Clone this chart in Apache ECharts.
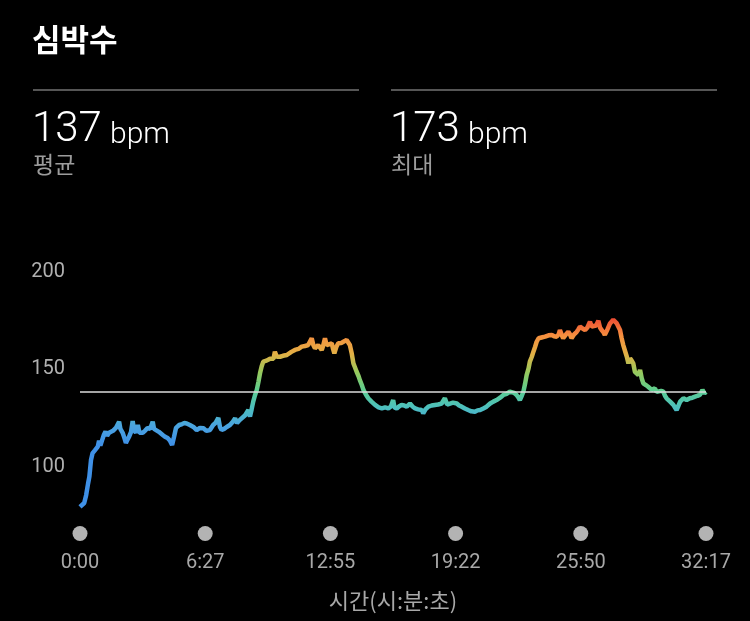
<!DOCTYPE html>
<html><head><meta charset="utf-8">
<script src="https://cdn.jsdelivr.net/npm/echarts@6/dist/echarts.min.js"></script>
<style>html,body{margin:0;padding:0;background:#000;}#c{width:750px;height:621px;}</style>
</head><body><div id="c"></div>
<script>
// elapsed time (seconds)
const timeSec = [0,6,13,19,25,29,34,39,46,55,59,63,68,74,79,84,90,96,102,111,121,125,132,138,142,147,152,158,163,167,173,179,184,194,201,209,217,225,229,235,244,256,263,271,278,285,291,297,307,316,323,330,340,351,361,371,382,391,402,412,419,428,433,438,446,454,464,473,480,486,494,500,511,521,526,531,536,541,547,552,557,562,567,572,577,583,588,593,599,603,609,619,628,640,645,654,665,676,686,696,706,712,717,722,727,737,743,748,753,758,763,768,779,783,787,793,799,808,815,825,831,835,841,846,851,856,862,866,872,877,885,892,902,913,924,934,944,954,962,969,973,980,987,995,1003,1011,1021,1029,1037,1046,1057,1062,1069,1078,1088,1098,1108,1119,1125,1129,1136,1145,1154,1166,1173,1181,1191,1201,1211,1222,1230,1238,1248,1258,1269,1279,1289,1300,1310,1320,1330,1336,1343,1351,1357,1361,1367,1372,1377,1382,1388,1392,1398,1403,1408,1413,1419,1423,1431,1439,1450,1460,1467,1475,1481,1485,1491,1495,1504,1511,1516,1521,1529,1537,1542,1547,1555,1563,1570,1578,1583,1588,1597,1604,1609,1614,1620,1624,1632,1640,1650,1655,1661,1666,1671,1676,1681,1686,1692,1697,1702,1707,1712,1717,1723,1728,1733,1738,1743,1751,1758,1764,1769,1779,1784,1789,1798,1805,1810,1815,1821,1826,1832,1836,1841,1846,1852,1857,1862,1867,1872,1877,1883,1887,1895,1903,1911,1918,1926,1932,1937];
// heart rate (bpm)
const bpm = [78,78,80,84,90,93.5,102,105.6,107,108.9,112,109.5,112,115,116.6,114.5,116,115,117,118.5,121.7,118,116,113,110.8,112.5,114,116.5,122,117.5,116,120,116,116,117,118.5,118,121.7,118,117.4,116.5,114.9,114,113.3,112,109.7,114,118.5,120,120.5,121,120.8,120,119,117.4,118.5,118.3,117,117.4,120,121,123.6,119,117.4,118,119,120,121.7,123.4,121,122.5,123.4,125,127.7,124.3,128,132,135,138,142,146.5,150,152.5,151.6,153,153.3,154,155,154,157.6,155,155,155.5,155.9,156.8,157.5,158.5,159,160.2,160.5,161,160,164.5,161,159.3,161,160,158.5,161,164.5,161,160.2,161.9,159,156.8,160,161.9,162,162.7,163.6,163,161,156.5,151.6,149.5,147.3,145,143,140.5,138,135.5,133.7,132,130.3,129,128.5,129,128.5,129.5,132.8,129,128.5,129.5,130.3,130,129.4,131,129.5,128.5,128,127.7,126,128,129.4,130,130.3,130.5,131,132,133.7,130.5,131,131.5,131,130,129.4,128.5,127.7,127,126.8,127.5,127.7,128.5,129.4,131,132,132.8,134,135.4,136,137.1,136.2,136.5,135.4,134,132.8,135,137.1,141,145.6,149,152.5,155,157.6,160,162.7,164.5,165.3,165,165.3,166,166.2,165.5,165.3,166.5,168.7,166,164.5,166.5,167.8,166.5,164.5,166.5,167.8,169,170.4,169.5,168.7,170,173,170.5,170.4,171,173.5,170,168.7,167.5,166.2,169,172.1,174,173,172.1,171.3,168.7,164.5,161,160.2,155,151.6,154.2,153,151.6,147.3,146.5,145.6,148.2,144,141.4,140.5,139.6,139,138,138.8,137,136.2,137.5,137.1,135,133.7,133,132,131.5,130.3,129,127.7,130,132,133,133.7,133,132.8,133.5,133.7,134,134.5,135,135.4,138,136.2,137];
const xTickLabels = ['0:00','6:27','12:55','19:22','25:50','32:17'];
const xMax = 1937;
const yTickValues = [100,150,200];
const titleText = '심박수';
const statValues = ['137','173'];
const statUnit = 'bpm';
const statNames = ['평균','최대'];
const avgBpm = 137;
const xAxisName = '시간(시:분:초)';

const NUM_FONT = 'Roboto, "Noto Sans", sans-serif';
const KR_FONT = '"Noto Sans CJK KR", sans-serif';

const chart = echarts.init(document.getElementById('c'), null, {renderer:'canvas'});
const seriesData = timeSec.map((t,i)=>[t,bpm[i]]);
const interval = xMax/5;

const graphic = [
  {type:'text', left:32, top:24, style:{text:titleText, fill:'#ffffff', fontSize:31, fontWeight:'bold', fontFamily:KR_FONT}},
];
const colX = [33, 391];
colX.forEach((x,i)=>{
  graphic.push({type:'line', shape:{x1:x, y1:90, x2:x+326, y2:90}, style:{stroke:'#565656', lineWidth:2}});
  graphic.push({type:'text', left:x-1, top:109, style:{text:statValues[i], fill:'#ffffff', fontSize:42, fontWeight:300, fontFamily:NUM_FONT}});
  graphic.push({type:'text', left:x+77, top:120, style:{text:statUnit, fill:'#ffffff', fontSize:30, fontWeight:300, fontFamily:NUM_FONT}});
  graphic.push({type:'text', left:x, top:153, style:{text:statNames[i], fill:'#9c9c9c', fontSize:23, fontFamily:KR_FONT}});
});

chart.setOption({
  backgroundColor:'#000000',
  animation:false,
  graphic: graphic,
  grid:{left:80, right:44, top:269, bottom:59.5, containLabel:false},
  visualMap:{
    show:false, type:'continuous', dimension:1, min:110, max:175,
    inRange:{color:['#3f90e6','#4aa3e0','#4cbfc0','#5ccd8f','#98c95c','#e2b045','#f5903f','#ee4a33']}
  },
  xAxis:{
    type:'value', min:0, max:xMax, interval:interval, offset:-35.5,
    axisLine:{show:false}, axisTick:{show:false}, splitLine:{show:false},
    name:xAxisName, nameLocation:'middle', nameGap:64,
    nameTextStyle:{color:'#a8a8a8', fontSize:22, fontFamily:KR_FONT},
    axisLabel:{
      margin:0, showMinLabel:true, showMaxLabel:true, hideOverlap:false,
      formatter:function(v){ const k=Math.round(v/interval); return '{d|}\n{t|'+xTickLabels[k]+'}'; },
      rich:{
        d:{width:15, height:15, borderRadius:7.5, backgroundColor:'#b3b3b3'},
        t:{fontSize:20, color:'#a8a8a8', lineHeight:44, fontFamily:NUM_FONT}
      }
    }
  },
  yAxis:{
    type:'value', min:50, max:200, interval:50,
    axisLine:{show:false}, axisTick:{show:false}, splitLine:{show:false},
    axisLabel:{
      margin:15,
      formatter:function(v){ return yTickValues.indexOf(v)>=0 ? '{s|}\n{a|'+v+'}' : ''; },
      rich:{
        s:{height:5, width:1},
        a:{color:'#b0b0b0', fontSize:20, lineHeight:20, fontFamily:NUM_FONT}
      }
    }
  },
  series:[{
    type:'line', data:seriesData, showSymbol:false, symbol:'none',
    lineStyle:{width:4.5},
    markLine:{
      silent:true, symbol:['none','none'], label:{show:false},
      lineStyle:{color:'#dcdcdc', width:1.5, type:'solid'},
      data:[{yAxis:avgBpm}]
    }
  }]
});
</script></body></html>
